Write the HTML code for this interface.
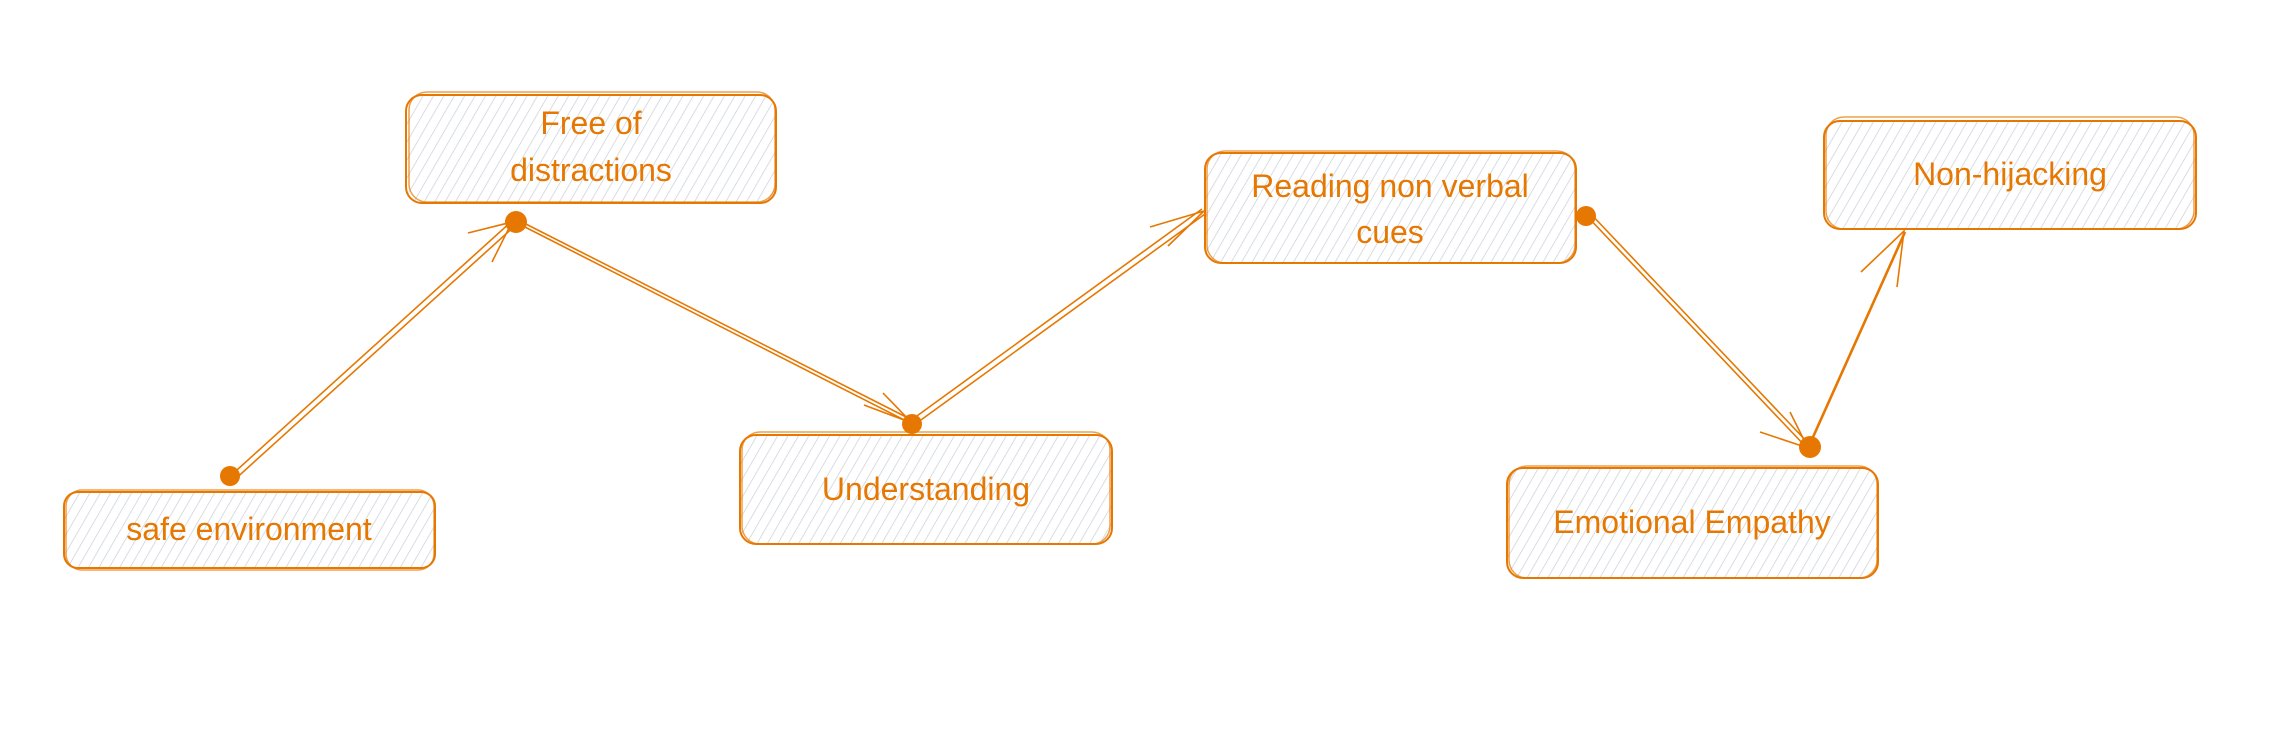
<!DOCTYPE html>
<html><head><meta charset="utf-8"><style>
html,body{margin:0;padding:0;background:#fff;}
svg{display:block}
text{font-family:"Liberation Sans",sans-serif;font-size:32px;fill:#e67700;text-anchor:middle;}
</style></head><body>
<svg width="2276" height="748" viewBox="0 0 2276 748" xmlns="http://www.w3.org/2000/svg">
<defs>
<pattern id="h" width="9" height="9" patternUnits="userSpaceOnUse" patternTransform="rotate(30)">
<line x1="0" y1="0" x2="0" y2="9" stroke="#c8ced6" stroke-width="1.4"/>
</pattern>
</defs>
<g stroke="#e67700" stroke-width="2" fill="url(#h)">
<rect x="406" y="95" width="370" height="108" rx="16"/>
<rect x="64" y="492" width="371" height="76" rx="14"/>
<rect x="740" y="435" width="372" height="109" rx="16"/>
<rect x="1205" y="153" width="371" height="110" rx="16"/>
<rect x="1824" y="121" width="372" height="108" rx="16"/>
<rect x="1507" y="468" width="371" height="110" rx="16"/>
</g>
<g stroke="#e67700" stroke-width="1.5" fill="none" opacity="0.7">
<rect x="409" y="92" width="366" height="110" rx="18"/>
<rect x="66" y="490" width="368" height="80" rx="16"/>
<rect x="742" y="432" width="368" height="112" rx="18"/>
<rect x="1207" y="151" width="368" height="112" rx="18"/>
<rect x="1826" y="117" width="368" height="112" rx="18"/>
<rect x="1509" y="466" width="368" height="112" rx="18"/>
</g>
<text x="591" y="134">Free of</text>
<text x="591" y="181">distractions</text>
<text x="249" y="540">safe environment</text>
<text x="926" y="500">Understanding</text>
<text x="1390" y="197">Reading non verbal</text>
<text x="1390" y="243">cues</text>
<text x="2010" y="185">Non-hijacking</text>
<text x="1692" y="533">Emotional Empathy</text>
<g stroke="#e67700" stroke-width="1.6" fill="none">
<path d="M512 221 L227 479 M518 223 L232 482"/>
<path d="M518 220 L912 420 M521 225 L914 425"/>
<path d="M910 421 L1202 209 M914 425 L1205 214"/>
<path d="M1585 214 L1806 447 M1589 212 L1810 445"/>
<path d="M1809 446 L1905 232" stroke-width="2.6"/>
<path d="M468 233 L512 222 L492 262"/>
<path d="M864 405 L912 423 L883 393"/>
<path d="M1150 227 L1204 211 L1168 246"/>
<path d="M1760 432 L1808 448 L1790 412"/>
<path d="M1861 272 L1904 231 L1897 287"/>
</g>
<g fill="#e67700">
<circle cx="516" cy="222" r="11"/>
<circle cx="230" cy="476" r="10"/>
<circle cx="912" cy="424" r="10"/>
<circle cx="1586" cy="216" r="10"/>
<circle cx="1810" cy="447" r="11"/>
</g>
</svg>
</body></html>
